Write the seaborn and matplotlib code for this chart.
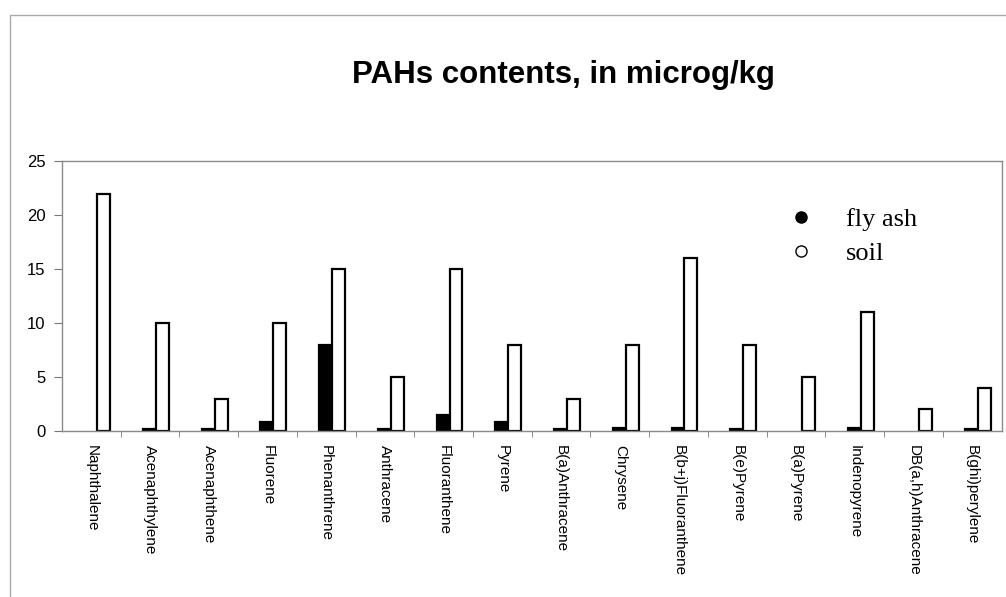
import matplotlib
matplotlib.use("Agg")
import matplotlib.pyplot as plt
import seaborn as sns
import pandas as pd
from matplotlib.lines import Line2D

# PAH compounds (x categories)
compounds = ['Naphthalene', 'Acenaphthylene', 'Acenaphthene', 'Fluorene',
             'Phenanthrene', 'Anthracene', 'Fluoranthene', 'Pyrene',
             'B(a)Anthracene', 'Chrysene', 'B(b+j)Fluoranthene', 'B(e)Pyrene',
             'B(a)Pyrene', 'Indenopyrene', 'DB(a,h)Anthracene', 'B(ghi)perylene']

# contents in microg/kg
fly_ash = [0, 0.2, 0.2, 0.8, 8.0, 0.2, 1.5, 0.8, 0.2, 0.3, 0.3, 0.2, 0, 0.3, 0, 0.2]
soil = [22, 10, 3, 10, 15, 5, 15, 8, 3, 8, 16, 8, 5, 11, 2, 4]

series = ['fly ash', 'soil']
y_ticks = [0, 5, 10, 15, 20, 25]

df = pd.DataFrame({
    'compound': compounds * 2,
    'series': [series[0]] * len(compounds) + [series[1]] * len(compounds),
    'value': fly_ash + soil,
})

sns.set_style('white', {'text.color': 'black', 'xtick.color': 'black',
                        'ytick.color': 'black'})
plt.rcParams['font.family'] = ['Liberation Sans', 'DejaVu Sans']

fig = plt.figure(figsize=(10.06, 5.97), dpi=100)
ax = fig.add_axes([0.0616, 0.278, 0.934, 0.452])

sns.barplot(data=df, x='compound', y='value', hue='series', order=compounds,
            hue_order=series, palette={'fly ash': 'black', 'soil': 'white'},
            width=0.44, edgecolor='black', linewidth=1.6, ax=ax, legend=False)

# bars sit slightly right of the category centre in the original;
# zero values leave no mark
for p in ax.patches:
    p.set_x(p.get_x() + 0.1)
    if p.get_height() == 0:
        p.set_visible(False)

ax.set_xlim(-0.5, len(compounds) - 0.5)
ax.set_ylim(0, 25)
ax.set_yticks(y_ticks)
ax.set_xlabel('')
ax.set_ylabel('')
ax.set_xticks(range(len(compounds)))
ax.set_xticklabels(compounds, rotation=-90, fontsize=11, va='top', ha='center')
ax.tick_params(axis='x', length=0, pad=10, labelcolor='black')
ax.set_xticks([i + 0.5 for i in range(len(compounds) - 1)], minor=True)
ax.tick_params(axis='x', which='minor', length=4, color='#777777', direction='out')
ax.tick_params(axis='y', labelsize=12, length=6, color='#777777', direction='out',
               pad=6, labelcolor='black')
ax.yaxis.set_ticks_position('left')
ax.xaxis.set_ticks_position('bottom')

for side in ['top', 'right', 'left', 'bottom']:
    ax.spines[side].set_visible(True)
    ax.spines[side].set_color('#8a8a8a')
    ax.spines[side].set_linewidth(1.0)

# legend with circle markers
handles = [
    Line2D([], [], marker='o', linestyle='none', markersize=8,
           markerfacecolor='black', markeredgecolor='black'),
    Line2D([], [], marker='o', linestyle='none', markersize=8,
           markerfacecolor='white', markeredgecolor='black'),
]
ax.legend(handles, series, loc='upper left', bbox_to_anchor=(0.75, 0.915),
          frameon=False, prop={'family': 'Liberation Serif', 'size': 19},
          handletextpad=1.3, labelspacing=0.4, handlelength=0.8,
          labelcolor='black')

fig.suptitle('PAHs contents, in microg/kg', x=0.56, y=0.9,
             fontsize=22.5, fontweight='bold', color='black')

# outer chart-area frame
fig.add_artist(Line2D([0.01, 1.0], [0.975, 0.975], color='#aaaaaa', lw=1.0))
fig.add_artist(Line2D([0.01, 0.01], [0.0, 0.975], color='#aaaaaa', lw=1.0))

fig.savefig('out.png', dpi=100)
